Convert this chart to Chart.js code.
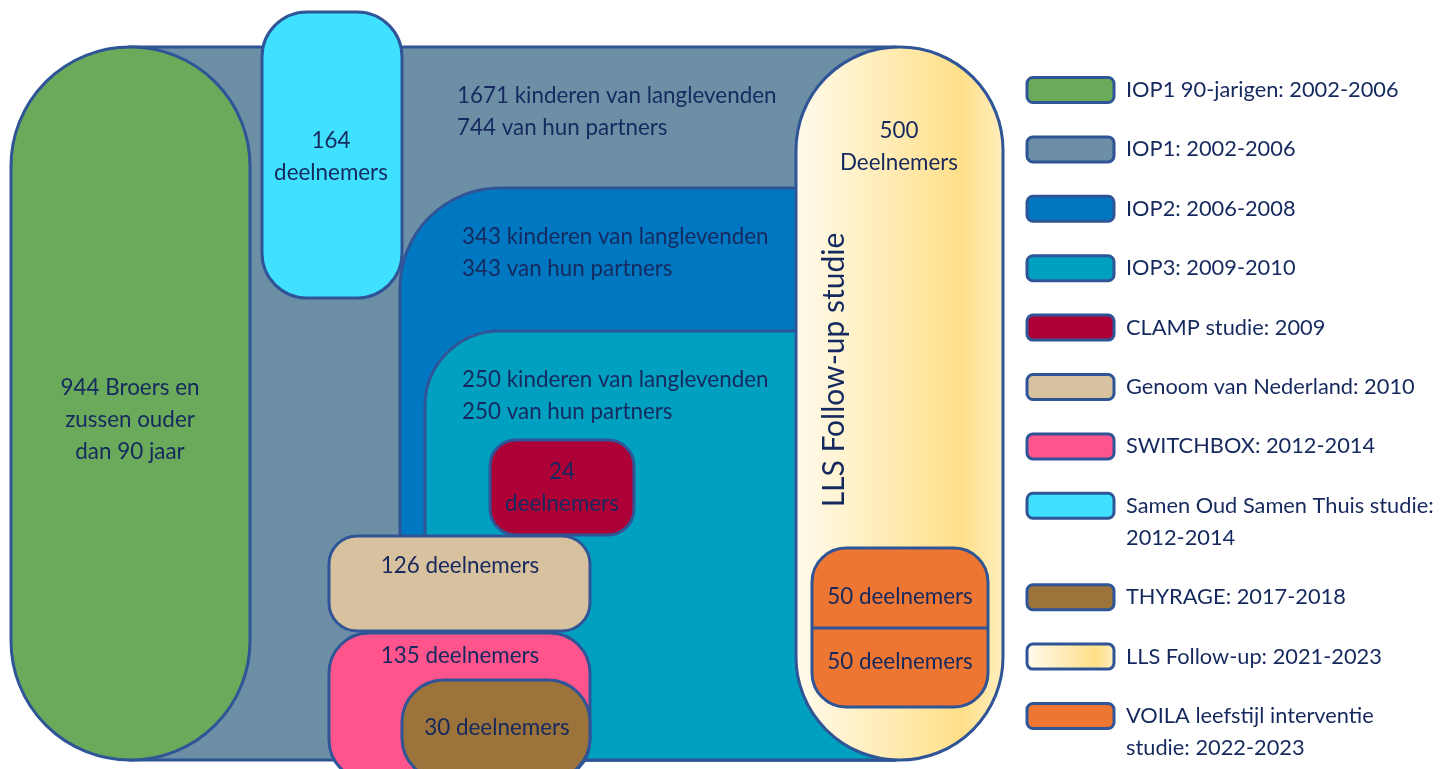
<!DOCTYPE html>
<html>
<head>
<meta charset="utf-8">
<script src="https://cdn.jsdelivr.net/npm/chart.js@4.4.0/dist/chart.umd.min.js"></script>
<style>
    html, body { margin: 0; padding: 0; background: #fff; }
    .chart-container { width: 1448px; height: 769px; position: relative; }
</style>
</head>
<body>
<div class="chart-container"><canvas id="studyChart"></canvas></div>
<script>
// Studies, in drawing order (back to front)
const studies = ['IOP1', 'IOP1 90-jarigen', 'Samen Oud Samen Thuis', 'IOP2', 'IOP3', 'LLS Follow-up',
    'CLAMP', 'Genoom van Nederland', 'SWITCHBOX', 'THYRAGE', 'VOILA'];
// extent of each study block in diagram units
const xStart = [130, 11, 262, 400, 425, 796, 490, 329, 329, 402, 812];
const xEnd   = [895, 250, 402, 895, 895, 1003, 634, 590, 590, 590, 988];
const yStart = [47, 47, 12, 188, 331, 47, 440, 536, 633, 680, 548];
const yEnd   = [760, 760, 298, 760, 760, 760, 535, 631, 780, 780, 707];

// participant counts
const kinderen = [1671, 343, 250];
const partners = [744, 343, 250];
const broersZussen = 944;
const deelnemers = { samenOud: 164, lls: 500, clamp: 24, genoom: 126, switchbox: 135, thyrage: 30, voila: [50, 50] };

// legend entries (top to bottom)
const legendLabels = [
    ['IOP1 90-jarigen: 2002-2006'],
    ['IOP1: 2002-2006'],
    ['IOP2: 2006-2008'],
    ['IOP3: 2009-2010'],
    ['CLAMP studie: 2009'],
    ['Genoom van Nederland: 2010'],
    ['SWITCHBOX: 2012-2014'],
    ['Samen Oud Samen Thuis studie:', '2012-2014'],
    ['THYRAGE: 2017-2018'],
    ['LLS Follow-up: 2021-2023'],
    ['VOILA leefstijl interventie', 'studie: 2022-2023']
];
const legendStudy = ['IOP1 90-jarigen', 'IOP1', 'IOP2', 'IOP3', 'CLAMP', 'Genoom van Nederland',
    'SWITCHBOX', 'Samen Oud Samen Thuis', 'THYRAGE', 'LLS Follow-up', 'VOILA'];

// styles
const colors = {
    'IOP1': '#6d8fa6',
    'IOP1 90-jarigen': '#6aaa5a',
    'Samen Oud Samen Thuis': '#40e0ff',
    'IOP2': '#0078c1',
    'IOP3': '#00a1c0',
    'LLS Follow-up': 'gradient',
    'CLAMP': '#ad0036',
    'Genoom van Nederland': '#d8c19e',
    'SWITCHBOX': '#ff548c',
    'THYRAGE': '#9b733b',
    'VOILA': '#ed7632'
};
// corner radii: [top-left, top-right, bottom-right, bottom-left]
const radii = [
    [0, 0, 0, 0], 119, 45, [100, 0, 0, 0], [75, 0, 0, 0], 103, 26, 28, 40, 42, 34
];
const outline = '#2f5597';
const textColor = '#16295e';
const FONT = 'Lato, "Open Sans", sans-serif';
const TEXT_SIZE = 22.4;
const LEGEND_SIZE = 21.8;

function llsGradient(ctx, x0, x1) {
    const g = ctx.createLinearGradient(x0, 0, x1, 0);
    g.addColorStop(0, '#fffbec');
    g.addColorStop(0.8, '#ffdf88');
    g.addColorStop(1, '#ffeebe');
    return g;
}

function textLines(ctx, lines, x, y, align, size) {
    ctx.font = size + 'px ' + FONT;
    ctx.fillStyle = textColor;
    ctx.textAlign = align;
    ctx.textBaseline = 'middle';
    lines.forEach((t, i) => ctx.fillText(t, x, y + i * 32));
}

const diagramPlugin = {
    id: 'diagram',
    afterDatasetsDraw(chart) {
        const ctx = chart.ctx;
        const sx = chart.scales.x, sy = chart.scales.y;

        // study blocks
        chart.data.datasets.forEach((ds, i) => {
            const pts = chart.getDatasetMeta(i).data;
            const x = pts[0].x, y = pts[0].y;
            const w = pts[1].x - x, h = pts[1].y - y;
            ctx.save();
            ctx.beginPath();
            ctx.roundRect(x, y, w, h, radii[i]);
            ctx.fillStyle = colors[ds.label] === 'gradient' ? llsGradient(ctx, x, x + w) : colors[ds.label];
            ctx.fill();
            ctx.lineWidth = 3;
            ctx.strokeStyle = outline;
            ctx.stroke();
            if (ds.label === 'VOILA') {
                // split between the two groups
                const ym = sy.getPixelForValue(628);
                ctx.beginPath();
                ctx.moveTo(x, ym);
                ctx.lineTo(x + w, ym);
                ctx.stroke();
            }
            ctx.restore();
        });

        // block texts
        const P = (vx, vy) => [sx.getPixelForValue(vx), sy.getPixelForValue(vy)];
        const size = TEXT_SIZE;
        let p;
        p = P(457, 96);  textLines(ctx, [kinderen[0] + ' kinderen van langlevenden', partners[0] + ' van hun partners'], p[0], p[1], 'left', size);
        p = P(462, 237); textLines(ctx, [kinderen[1] + ' kinderen van langlevenden', partners[1] + ' van hun partners'], p[0], p[1], 'left', size);
        p = P(462, 380); textLines(ctx, [kinderen[2] + ' kinderen van langlevenden', partners[2] + ' van hun partners'], p[0], p[1], 'left', size);
        p = P(130, 388); textLines(ctx, [broersZussen + ' Broers en', 'zussen ouder', 'dan 90 jaar'], p[0], p[1], 'center', size);
        p = P(331, 141); textLines(ctx, [String(deelnemers.samenOud), 'deelnemers'], p[0], p[1], 'center', size);
        p = P(899, 131); textLines(ctx, [String(deelnemers.lls), 'Deelnemers'], p[0], p[1], 'center', size);
        p = P(562, 472); textLines(ctx, [String(deelnemers.clamp), 'deelnemers'], p[0], p[1], 'center', size);
        p = P(460, 566); textLines(ctx, [deelnemers.genoom + ' deelnemers'], p[0], p[1], 'center', size);
        p = P(460, 656); textLines(ctx, [deelnemers.switchbox + ' deelnemers'], p[0], p[1], 'center', size);
        p = P(497, 728); textLines(ctx, [deelnemers.thyrage + ' deelnemers'], p[0], p[1], 'center', size);
        p = P(900, 597); textLines(ctx, [deelnemers.voila[0] + ' deelnemers'], p[0], p[1], 'center', size);
        p = P(900, 662); textLines(ctx, [deelnemers.voila[1] + ' deelnemers'], p[0], p[1], 'center', size);

        // rotated study name
        p = P(834, 370);
        ctx.save();
        ctx.translate(p[0], p[1]);
        ctx.rotate(-Math.PI / 2);
        textLines(ctx, ['LLS Follow-up studie'], 0, 0, 'center', 30);
        ctx.restore();

        // legend
        let ly = 90;
        legendLabels.forEach((lines, i) => {
            const study = legendStudy[i];
            const bx = sx.getPixelForValue(1027), bx2 = sx.getPixelForValue(1114);
            const by = sy.getPixelForValue(ly);
            ctx.save();
            ctx.beginPath();
            ctx.roundRect(bx, by - 12.5, bx2 - bx, 25, 6);
            ctx.fillStyle = colors[study] === 'gradient' ? llsGradient(ctx, bx, bx2) : colors[study];
            ctx.fill();
            ctx.lineWidth = 3;
            ctx.strokeStyle = outline;
            ctx.stroke();
            ctx.restore();
            textLines(ctx, lines, sx.getPixelForValue(1126), by, 'left', LEGEND_SIZE);
            ly += 59.4 + 32 * (lines.length - 1);
        });
    }
};

const ctx = document.getElementById('studyChart').getContext('2d');
const studyChart = new Chart(ctx, {
    type: 'scatter',
    data: {
        datasets: studies.map((s, i) => ({
            label: s,
            data: [{ x: xStart[i], y: yStart[i] }, { x: xEnd[i], y: yEnd[i] }],
            pointRadius: 0
        }))
    },
    options: {
        responsive: true,
        maintainAspectRatio: false,
        animation: false,
        layout: { padding: 0 },
        scales: {
            x: { type: 'linear', min: 0, max: 1448, display: false },
            y: { type: 'linear', min: 0, max: 769, reverse: true, display: false }
        },
        plugins: {
            legend: { display: false },
            tooltip: { enabled: false }
        }
    },
    plugins: [diagramPlugin]
});
</script>
</body>
</html>
